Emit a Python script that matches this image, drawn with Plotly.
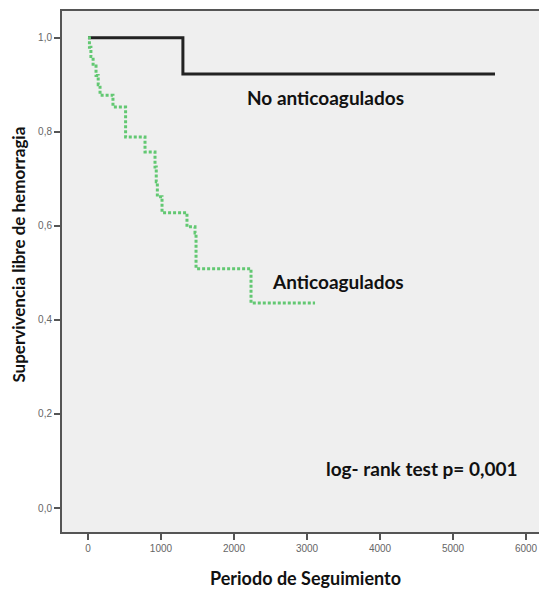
import plotly.graph_objects as go

# Kaplan-Meier step data (days, survival)
no_anti_t = [0, 1300, 5575]
no_anti_s = [1.0, 0.923, 0.923]

anti_t = [0, 20, 40, 70, 110, 140, 165, 342, 515, 781, 918, 935, 950, 1014, 1356, 1466, 1480, 2233, 3110]
anti_s = [1.0, 0.98, 0.96, 0.94, 0.92, 0.90, 0.878, 0.853, 0.789, 0.757, 0.725, 0.694, 0.662, 0.628, 0.598, 0.585, 0.509, 0.436, 0.436]

x_ticks = [0, 1000, 2000, 3000, 4000, 5000, 6000]
y_ticks = [0.0, 0.2, 0.4, 0.6, 0.8, 1.0]

fig = go.Figure()
fig.add_trace(go.Scatter(x=no_anti_t, y=no_anti_s, mode="lines", line_shape="hv",
                         line=dict(color="#222222", width=3), showlegend=False))
fig.add_trace(go.Scatter(x=anti_t, y=anti_s, mode="lines", line_shape="hv",
                         line=dict(color="#62c872", width=3, dash="3px,2px"), showlegend=False))

txt_font = dict(family="Lato, Liberation Sans, sans-serif", size=19, color="#111111")
fig.add_annotation(x=3260, y=0.874, text="<b>No anticoagulados</b>", showarrow=False, font=txt_font)
fig.add_annotation(x=3425, y=0.481, text="<b>Anticoagulados</b>", showarrow=False, font=txt_font)
fig.add_annotation(x=4575, y=0.085, text="<b>log- rank test p= 0,001</b>", showarrow=False, font=txt_font)

title_font = dict(family="Lato, Liberation Sans", size=17, color="#111")
fig.add_annotation(xref="paper", yref="paper", x=-0.088, y=0.5317, textangle=-90,
                   text="<b>Supervivencia libre de hemorragia</b>", showarrow=False,
                   xanchor="center", yanchor="middle", font=title_font)
fig.add_annotation(xref="paper", yref="paper", x=0.4935, y=-0.0883,
                   text="<b>Periodo de Seguimiento</b>", showarrow=False,
                   xanchor="center", yanchor="middle", font=dict(title_font, size=18))

fig.update_layout(
    width=547, height=589,
    margin=dict(l=54, r=0, t=3, b=65),
    paper_bgcolor="white", plot_bgcolor="#efefef",
    separators=",.",
    showlegend=False,
)
fig.update_xaxes(range=[-356, 6397], tickvals=x_ticks, ticks="outside", ticklen=6, tickwidth=2,
                 tickcolor="#555", showgrid=False, zeroline=False, showline=True, linecolor="#555",
                 linewidth=2, mirror=True, automargin=False,
                 tickfont=dict(family="Liberation Sans", size=10, color="#666"))
fig.update_yaxes(range=[-0.051, 1.057], tickvals=y_ticks, tickformat=".1f", ticks="outside", ticklen=6,
                 tickwidth=2, tickcolor="#555", showgrid=False, zeroline=False, showline=True,
                 linecolor="#555", linewidth=2, mirror=True, automargin=False,
                 tickfont=dict(family="Liberation Sans", size=10, color="#666"))

fig.write_html("out.html")
